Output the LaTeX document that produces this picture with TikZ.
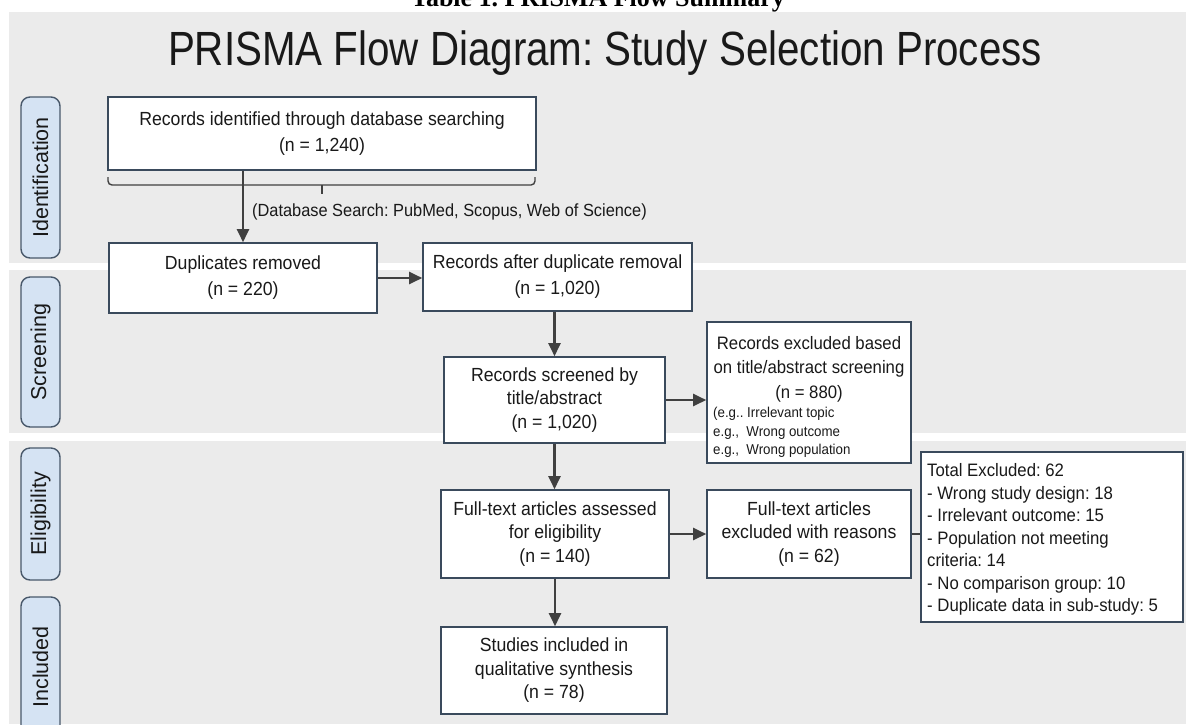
\documentclass[tikz,border=0pt]{standalone}
\usepackage{fontspec}
\setmainfont{Liberation Sans}[FakeStretch=0.93]
\newfontfamily\titlefont{Liberation Sans}[FakeStretch=0.84]
\newfontfamily\lblfont{Liberation Sans}
\newfontfamily\capfont{Liberation Serif}
\usetikzlibrary{arrows.meta}
\definecolor{bg}{RGB}{235,235,235}
\definecolor{boxborder}{RGB}{58,74,92}
\definecolor{phasefill}{RGB}{213,227,243}
\definecolor{phaseborder}{RGB}{72,88,106}
\definecolor{arrowc}{RGB}{64,64,64}
\definecolor{txt}{RGB}{25,25,25}
\tikzset{
  box/.style={draw=boxborder, fill=white, line width=1.6pt, inner sep=3pt, align=center, text=txt, font=\fontsize{19}{26}\selectfont},
  boxthree/.style={box, font=\fontsize{19}{23.5}\selectfont},
  inbox/.style={inner sep=0pt, text=txt},
  phase/.style={draw=phaseborder, fill=phasefill, line width=1.4pt, rounded corners=9pt, rotate=90, minimum height=39pt, inner sep=0pt, text=txt, font=\lblfont\fontsize{21.5}{24}\selectfont},
  arr/.style={draw=arrowc, line width=2.2pt, -{Triangle[length=13pt,width=12pt]}},
  plainline/.style={draw=arrowc, line width=2pt},
  bracestyle/.style={draw=arrowc, line width=1.4pt, rounded corners=4pt}
}
\begin{document}
\frenchspacing
\begin{tikzpicture}[x=1pt,y=-1pt]
\useasboundingbox (0,0) rectangle (1186,724);
\clip (0,0) rectangle (1186,724);
\fill[white] (0,0) rectangle (1186,724);
% background and bands
\fill[bg] (9,12) rectangle (1186,724);
\fill[white] (9,263) rectangle (1186,270);
\fill[white] (9,433) rectangle (1186,441);
% caption (cut by the top edge) and title
\node[font=\capfont\bfseries\fontsize{26}{28}\selectfont, anchor=base, inner sep=0pt] (cap) at (598,6) {Table 1. PRISMA Flow Summary};
\node[font=\titlefont\fontsize{48}{52}\selectfont, anchor=base, inner sep=0pt, text=black!90] (title) at (605,65) {PRISMA Flow Diagram: Study Selection Process};
% phase labels
\node[phase, minimum width=161pt] (pid) at (40.5,177.5) {Identification};
\node[phase, minimum width=150pt] (pscr) at (40.5,352) {Screening};
\node[phase, minimum width=132pt] (pelig) at (40.5,514) {Eligibility};
\node[phase, minimum width=140pt] (pinc) at (40.5,667) {Included};
% boxes
\node[box, minimum width=428pt, minimum height=73pt] (id) at (322,133.5) {Records identified through database searching\\(n = 1,240)};
\node[box, minimum width=268pt, minimum height=70pt] (dup) at (243,278) {Duplicates removed\\(n = 220)};
\node[box, minimum width=269pt, minimum height=68pt] (after) at (557.5,277) {Records after duplicate removal\\(n = 1,020)};
\node[boxthree, minimum width=221pt, minimum height=86pt] (scr) at (554.5,400) {Records screened by\\title/abstract\\(n = 1,020)};
\node[box, minimum width=204pt, minimum height=141pt] (ex1) at (809,392.5) {};
\node[inbox, anchor=north, align=center, font=\fontsize{18}{24.5}\selectfont] (ex1a) at (809,336) {Records excluded based\\on title/abstract screening\\(n = 880)};
\node[inbox, anchor=north west, align=left, font=\fontsize{14.3}{18.5}\selectfont] (ex1b) at (713,407) {(e.g.. Irrelevant topic\\e.g.,~~Wrong outcome\\e.g.,~~Wrong population};
\node[boxthree, minimum width=228pt, minimum height=88pt] (full) at (555,534) {Full-text articles assessed\\for eligibility\\(n = 140)};
\node[boxthree, minimum width=204pt, minimum height=88pt] (ftex) at (809,534) {Full-text articles\\excluded with reasons\\(n = 62)};
\node[box, minimum width=262pt, minimum height=170pt] (tot) at (1052,537) {};
\node[inbox, anchor=west, align=left, font=\fontsize{18}{22.5}\selectfont] (totx) at (927,539.5) {Total Excluded: 62\\- Wrong study design: 18\\- Irrelevant outcome: 15\\- Population not meeting\\criteria: 14\\- No comparison group: 10\\- Duplicate data in sub-study: 5};
\node[boxthree, minimum width=226pt, minimum height=87pt] (incl) at (554,670.5) {Studies included in\\qualitative synthesis\\(n = 78)};
% brace under the first box and its note
\draw[bracestyle] (108,177) -- (108,185) -- (535,185) -- (535,177);
\draw[draw=arrowc, line width=1.4pt] (322,185) -- (322,194);
\node[anchor=west, inner sep=0pt, text=txt, font=\fontsize{17.6}{20}\selectfont] (dbs) at (252,212) {(Database Search: PubMed, Scopus, Web of Science)};
% connectors
\draw[arr] (id.south -| dup.north) -- (dup.north);
\draw[arr] (dup.east) -- (dup.east -| after.west);
\draw[arr] (after.south -| scr.north) -- (scr.north);
\draw[arr] (scr.east) -- (scr.east -| ex1.west);
\draw[arr] (scr.south) -- (scr.south |- full.north);
\draw[arr] (full.east) -- (full.east -| ftex.west);
\draw[arr] (full.south) -- (full.south |- incl.north);
\draw[plainline] (ftex.east) -- (ftex.east -| tot.west);
\end{tikzpicture}
\end{document}
